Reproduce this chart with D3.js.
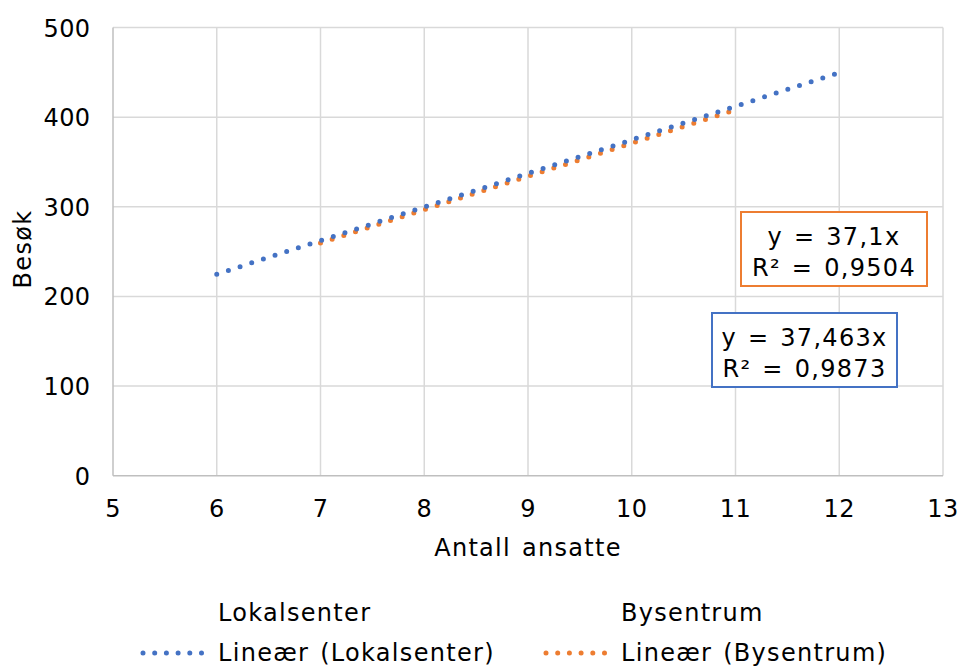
<!doctype html>
<html>
  <head>
    <meta charset="utf-8">
    <title>Besøk etter antall ansatte</title>
    <script src="https://cdnjs.cloudflare.com/ajax/libs/d3/7.8.5/d3.min.js"></script>
    <style>
      body { margin: 0; background: #fff; }
      text {
        font-family: "DejaVu Sans", Verdana, sans-serif;
        font-size: 24px;
        letter-spacing: 1.3px;
        word-spacing: 2px;
        fill: #000;
      }
      text.tick { letter-spacing: 0.4px; }
    </style>
  </head>
  <body>
    <div id="chart"></div>
    <script>
      // ticks
      const xTicks = [5, 6, 7, 8, 9, 10, 11, 12, 13];
      const yTicks = [0, 100, 200, 300, 400, 500];

      // trendline endpoints (x, y)
      const lokalX = [6, 12];
      const lokalY = [224.8, 449.6];
      const byX = [7, 11];
      const byY = [259.7, 408.1];

      const seriesNames = ['Lokalsenter', 'Bysentrum'];
      const trendNames = ['Lineær (Lokalsenter)', 'Lineær (Bysentrum)'];
      const eqLines = [['y = 37,463x', 'R² = 0,9873'], ['y = 37,1x', 'R² = 0,9504']];
      const colors = ['#4472C4', '#ED7D31'];

      const W = 958, H = 668;
      const pLeft = 113, pRight = 943, pTop = 27.5, pBottom = 475.7;

      const svg = d3.select('#chart').append('svg')
        .attr('width', W).attr('height', H);

      const x = d3.scaleLinear().domain([5, 13]).range([pLeft, pRight]);
      const y = d3.scaleLinear().domain([0, 500]).range([pBottom, pTop]);

      // gridlines
      svg.append('g').selectAll('line').data(xTicks.slice(1)).join('line')
        .attr('x1', d => x(d)).attr('x2', d => x(d))
        .attr('y1', pTop).attr('y2', pBottom)
        .attr('stroke', '#d9d9d9').attr('stroke-width', 1.5);
      svg.append('g').selectAll('line').data(yTicks.slice(1)).join('line')
        .attr('x1', pLeft).attr('x2', pRight)
        .attr('y1', d => y(d)).attr('y2', d => y(d))
        .attr('stroke', '#d9d9d9').attr('stroke-width', 1.5);

      // axis lines
      svg.append('line').attr('x1', pLeft).attr('x2', pLeft).attr('y1', pTop).attr('y2', pBottom)
        .attr('stroke', '#bfbfbf').attr('stroke-width', 1.5);
      svg.append('line').attr('x1', pLeft).attr('x2', pRight).attr('y1', pBottom).attr('y2', pBottom)
        .attr('stroke', '#bfbfbf').attr('stroke-width', 1.5);

      // tick labels
      svg.append('g').selectAll('text').data(yTicks).join('text')
        .attr('class', 'tick')
        .attr('x', 90.5).attr('y', d => y(d) + 9)
        .attr('text-anchor', 'end')
        .text(d => d);
      svg.append('g').selectAll('text').data(xTicks).join('text')
        .attr('class', 'tick')
        .attr('x', d => x(d)).attr('y', 517)
        .attr('text-anchor', 'middle')
        .text(d => d);

      // axis titles
      svg.append('text').attr('x', 528).attr('y', 556)
        .attr('text-anchor', 'middle').text('Antall ansatte');
      svg.append('text').attr('transform', 'translate(31,249) rotate(-90)')
        .attr('text-anchor', 'middle').text('Besøk');

      // trendlines
      const line = d3.line().x(d => x(d[0])).y(d => y(d[1]));
      const trends = [d3.zip(lokalX, lokalY), d3.zip(byX, byY)];
      // orange first so blue sits on top
      [1, 0].forEach(i => {
        svg.append('path').datum(trends[i])
          .attr('d', line)
          .attr('fill', 'none')
          .attr('stroke', colors[i])
          .attr('stroke-width', 5)
          .attr('stroke-linecap', 'round')
          .attr('stroke-dasharray', '0 12.25');
      });

      // equation boxes
      const boxes = [
        { x: 712, y: 313, w: 185, h: 74 },
        { x: 741, y: 212, w: 186, h: 74 }
      ];
      boxes.forEach((b, i) => {
        svg.append('rect').attr('x', b.x).attr('y', b.y)
          .attr('width', b.w).attr('height', b.h)
          .attr('fill', '#fff').attr('stroke', colors[i]).attr('stroke-width', 2);
        eqLines[i].forEach((t, j) => {
          svg.append('text').attr('x', b.x + b.w / 2).attr('y', b.y + 32.5 + j * 31)
            .attr('text-anchor', 'middle').text(t);
        });
      });

      // legend
      const legX = [218, 621];
      seriesNames.forEach((n, i) => {
        svg.append('text').attr('x', legX[i]).attr('y', 621)
          .text(n);
        svg.append('line')
          .attr('x1', legX[i] - 75).attr('x2', legX[i] - 11)
          .attr('y1', 653).attr('y2', 653)
          .attr('stroke', colors[i]).attr('stroke-width', 5)
          .attr('stroke-linecap', 'round').attr('stroke-dasharray', '0 11.7');
        svg.append('text').attr('x', legX[i]).attr('y', 661)
          .text(trendNames[i]);
      });
    </script>
  </body>
</html>
